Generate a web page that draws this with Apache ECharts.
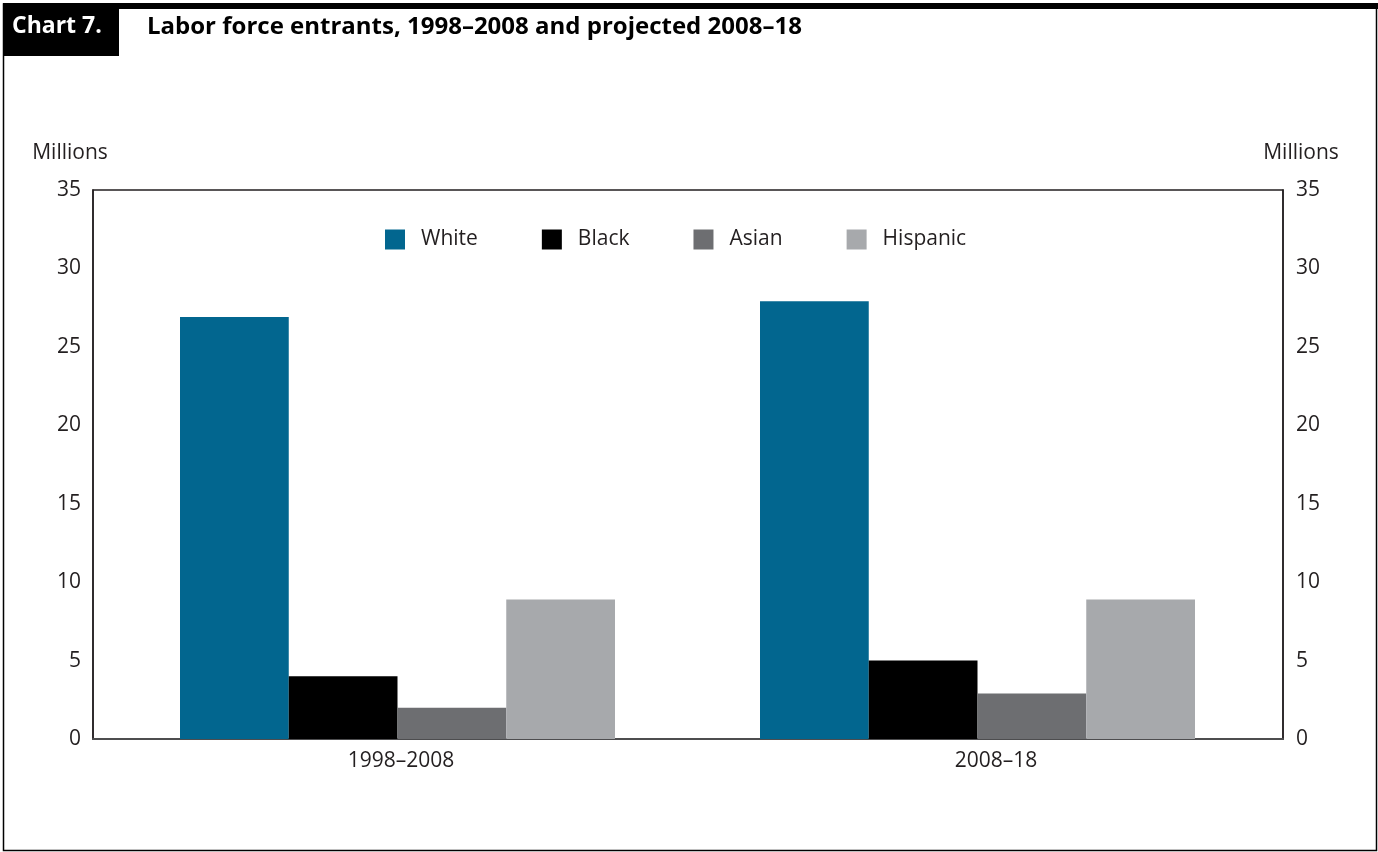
<!DOCTYPE html>
<html>
<head>
<meta charset="utf-8">
<script src="https://cdn.jsdelivr.net/npm/echarts@6/dist/echarts.min.js"></script>
<style>
html,body{margin:0;padding:0;background:#fff;}
#chart{width:1378px;height:852px;}
</style>
</head>
<body>
<div id="chart"></div>
<script>
const categories = ['1998–2008', '2008–18'];
const seriesNames = ['White', 'Black', 'Asian', 'Hispanic'];
const whiteValues = [26.9, 27.9];
const blackValues = [4.0, 5.0];
const asianValues = [2.0, 2.9];
const hispanicValues = [8.9, 8.9];
const yTicks = [0, 5, 10, 15, 20, 25, 30, 35];
const colors = ['#02668f', '#000000', '#6d6e71', '#a7a9ac'];

const FONT = "'Open Sans', 'Noto Sans', sans-serif";
const TXT = '#231f20';
const FS = 21;
const values = [whiteValues, blackValues, asianValues, hispanicValues];
const yMin = yTicks[0], yMax = yTicks[yTicks.length - 1];

const chart = echarts.init(document.getElementById('chart'), null, {renderer: 'canvas'});
const yAxisBase = {
  type: 'value', gridIndex: 0, min: yMin, max: yMax, interval: 5,
  name: 'Millions', nameLocation: 'end', nameGap: 26,
  axisLine: {show: true, lineStyle: {color: TXT, width: 1.5}},
  axisTick: {show: false},
  splitLine: {show: false},
  axisLabel: {color: TXT, fontSize: FS, fontFamily: FONT}
};
chart.setOption({
  animation: false,
  color: colors,
  grid: [
    {left: 93, right: 95, top: 190, bottom: 113, show: true, borderColor: TXT, borderWidth: 1.5, backgroundColor: 'transparent'},
    {left: 107.5, right: 110.5, top: 190, bottom: 113}
  ],
  legend: {
    top: 224, left: 380,
    data: seriesNames,
    itemWidth: 20, itemHeight: 20, itemGap: 64,
    icon: 'rect',
    textStyle: {color: TXT, fontSize: FS, fontFamily: FONT, padding: [0, 0, 0, 11]}
  },
  xAxis: [
    {
      type: 'category', gridIndex: 0, data: categories,
      axisLine: {show: true, lineStyle: {color: '#4d4d4f', width: 2}},
      axisTick: {show: false},
      axisLabel: {color: TXT, fontSize: FS, fontFamily: FONT, margin: 12, padding: [0, 0, 0, 21]}
    },
    {
      type: 'category', gridIndex: 1, data: categories,
      show: false
    }
  ],
  yAxis: [
    Object.assign({}, yAxisBase, {position: 'left',
      nameTextStyle: {color: TXT, fontSize: FS, fontFamily: FONT, padding: [0, 46, 0, 0]},
      axisLabel: Object.assign({}, yAxisBase.axisLabel, {margin: 12})}),
    Object.assign({}, yAxisBase, {position: 'right',
      nameTextStyle: {color: TXT, fontSize: FS, fontFamily: FONT, padding: [0, 0, 0, 36]},
      axisLabel: Object.assign({}, yAxisBase.axisLabel, {margin: 13})}),
    {type: 'value', gridIndex: 1, min: yMin, max: yMax, show: false}
  ],
  series: seriesNames.map((n, i) => ({
    name: n, type: 'bar', data: values[i], xAxisIndex: 1, yAxisIndex: 2,
    barGap: '0%', barCategoryGap: '25%',
    itemStyle: {color: colors[i]}
  })),
  graphic: [
    {type: 'rect', shape: {x: 3.5, y: 4, width: 1373, height: 846.5}, style: {fill: 'none', stroke: '#000', lineWidth: 1.5}, silent: true},
    {type: 'rect', shape: {x: 3, y: 3, width: 1375, height: 6}, style: {fill: '#000'}, silent: true},
    {type: 'rect', shape: {x: 3, y: 3, width: 116, height: 53}, style: {fill: '#000'}, silent: true},
    {type: 'text', left: 12, top: 15, style: {text: 'Chart 7.', fill: '#fff', font: "bold 23px " + FONT}},
    {type: 'text', left: 147, top: 15, style: {text: 'Labor force entrants, 1998–2008 and projected 2008–18', fill: '#000', font: "bold 24px " + FONT}}
  ]
});
</script>
</body>
</html>
